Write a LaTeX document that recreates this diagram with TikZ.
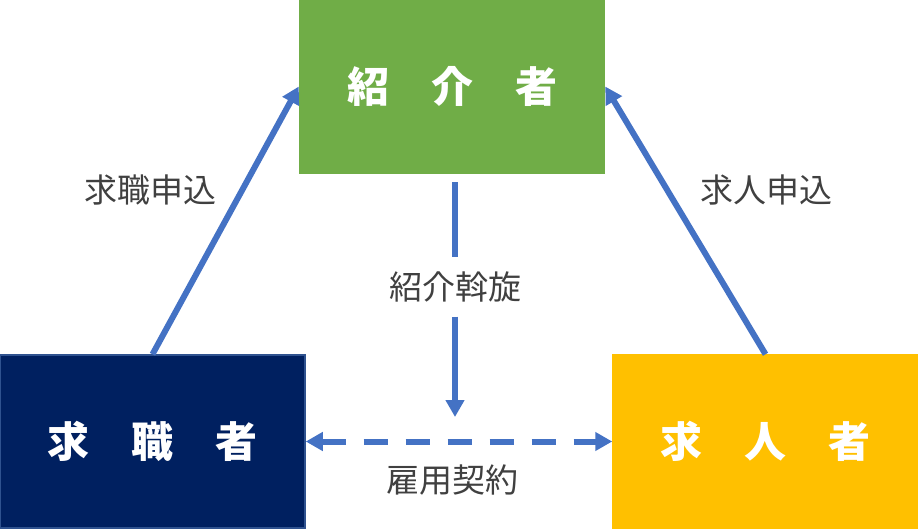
\documentclass[tikz,border=0pt]{standalone}
\usepackage{fontspec}
\newfontfamily\jp{Noto Sans CJK JP}
\usetikzlibrary{arrows.meta}
\definecolor{zkgreen}{HTML}{70AD47}
\definecolor{kjnavy}{HTML}{002060}
\definecolor{kjrim}{HTML}{2F528F}
\definecolor{knyellow}{HTML}{FFC000}
\definecolor{flow}{HTML}{4472C4}
\definecolor{txt}{HTML}{404040}
\begin{document}
\begin{tikzpicture}[x=1pt, y=-1pt,
	box/.style={rectangle, minimum width=305pt, minimum height=173pt, inner sep=0pt, text=white, font=\jp\bfseries\fontsize{42}{50}\selectfont},
	lbl/.style={text=txt, inner sep=0pt, font=\jp\fontsize{33}{40}\selectfont},
	flowline/.style={draw=flow, line width=6pt, -{Triangle[length=17pt, width=18pt]}}]
\useasboundingbox (0,0) rectangle (918,528);
\foreach \n\x\y\f\d\t in {
	zk/452/86.5/zkgreen/zkgreen/紹　介　者
	,kj/152.5/441.5/kjnavy/kjrim/求　職　者
	,kn/765.5/441.5/knyellow/knyellow/求　人　者
}{
	\node[box, fill=\f, draw=\d, line width=1.5pt](\n) at(\x,\y){\t};
}
% labels
\node[lbl](kjl) at(150,190){求職申込};
\node[lbl](knl) at(766,190){求人申込};
\node[lbl](kyl) at(452,480){雇用契約};
\node[lbl, fill=white, minimum height=59pt](hl) at(455,287){紹介斡旋};
\coordinate(hs) at(455,182);
\coordinate(ht) at(455,417);
% arrows
\foreach \u\v in {%
	kj.north/zk.west%
	,kn.north/zk.east%
	,hl.south/ht%
}{
\draw[flowline] (\u) -- (\v);
}
\draw[draw=flow, line width=6pt] (hs) -- (hl.north);
\draw[flowline, {Triangle[length=17pt, width=18pt]}-{Triangle[length=17pt, width=18pt]}, dash pattern=on 24pt off 18pt] (kj.east) -- (kn.west);
\end{tikzpicture}
\end{document}
